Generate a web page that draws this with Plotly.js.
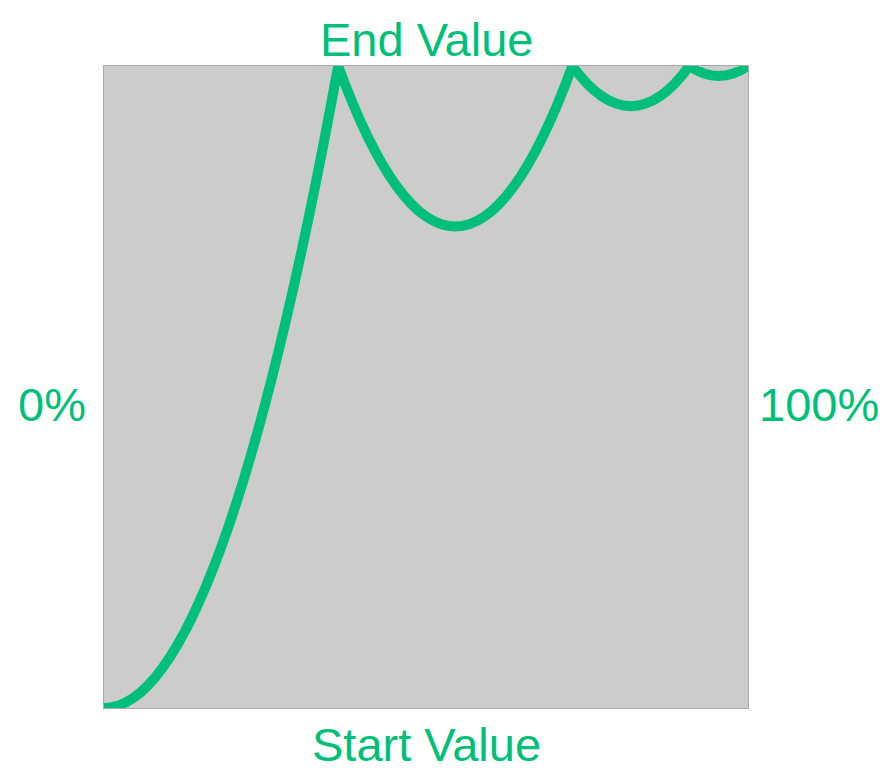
<!DOCTYPE html>
<html>
<head>
<meta charset="utf-8">
<script src="https://cdn.plot.ly/plotly-3.0.1.min.js"></script>
<style>html,body{margin:0;padding:0;background:#fff;}#chart{width:888px;height:782px;}</style>
</head>
<body>
<div id="chart"></div>
<script>
// sample index along the horizontal axis (88 steps from start to end)
const sampleIndex = [
  0,1,2,3,4,5,6,7,8,9,10,11,12,13,14,15,16,17,18,19,20,21,22,23,24,25,26,27,28,29,30,31,32,
  33,34,35,36,37,38,39,40,41,42,43,44,45,46,47,48,49,50,51,52,53,54,55,56,57,58,59,60,61,62,63,64,
  65,66,67,68,69,70,71,72,73,74,75,76,77,78,79,80,
  81,82,83,84,85,86,87,88
];
const totalSteps = 88;
// eased value
const easedValue = [
  0, 0.0010, 0.0039, 0.0088, 0.0156, 0.0244, 0.0352, 0.0479, 0.0625, 0.0791,
  0.0977, 0.1182, 0.1406, 0.1650, 0.1914, 0.2197, 0.25, 0.2822, 0.3164, 0.3525,
  0.3906, 0.4307, 0.4727, 0.5166, 0.5625, 0.6104, 0.6602, 0.7119, 0.7656, 0.8213,
  0.8789, 0.9385, 1.0,
  0.9697, 0.9414, 0.9150, 0.8906, 0.8682, 0.8477, 0.8291, 0.8125, 0.7979, 0.7852,
  0.7744, 0.7656, 0.7588, 0.7539, 0.7510, 0.75, 0.7510, 0.7539, 0.7588, 0.7656,
  0.7744, 0.7852, 0.7979, 0.8125, 0.8291, 0.8477, 0.8682, 0.8906, 0.9150, 0.9414,
  0.9697, 1.0,
  0.9854, 0.9727, 0.9619, 0.9531, 0.9463, 0.9414, 0.9385, 0.9375, 0.9385, 0.9414,
  0.9463, 0.9531, 0.9619, 0.9727, 0.9854, 1.0,
  0.9932, 0.9883, 0.9854, 0.9844, 0.9854, 0.9883, 0.9932, 1.0
];
const progress = sampleIndex.map(k => k / totalSteps);
const labels = {top: 'End Value', bottom: 'Start Value', left: '0%', right: '100%'};

const green = '#00BF7A';
const font = {family: 'Liberation Sans, Arial, Helvetica, sans-serif', size: 47, color: green};

Plotly.newPlot('chart', [{
  x: progress,
  y: easedValue,
  type: 'scatter',
  mode: 'lines',
  line: {color: green, width: 10, simplify: false, shape: 'linear'},
  hoverinfo: 'skip'
}], {
  width: 888, height: 782,
  margin: {l: 104, r: 140, t: 66, b: 74, pad: 0},
  paper_bgcolor: '#ffffff',
  plot_bgcolor: '#cccccc',
  showlegend: false,
  xaxis: {range: [0, 1], showgrid: false, zeroline: false, showticklabels: false, ticks: '',
          showline: true, linecolor: '#aaaaaa', linewidth: 1, mirror: true, fixedrange: true},
  yaxis: {range: [0, 1], showgrid: false, zeroline: false, showticklabels: false, ticks: '',
          showline: true, linecolor: '#aaaaaa', linewidth: 1, mirror: true, fixedrange: true},
  annotations: [
    {text: labels.top, xref: 'paper', yref: 'paper', x: 0.5, y: 1.0405, xanchor: 'center', yanchor: 'middle', showarrow: false, font: font},
    {text: labels.bottom, xref: 'paper', yref: 'paper', x: 0.5, y: -0.0576, xanchor: 'center', yanchor: 'middle', showarrow: false, font: font},
    {text: labels.left, xref: 'paper', yref: 'paper', x: -0.0807, y: 0.472, xanchor: 'center', yanchor: 'middle', showarrow: false, font: font},
    {text: labels.right, xref: 'paper', yref: 'paper', x: 1.110, y: 0.472, xanchor: 'center', yanchor: 'middle', showarrow: false, font: font}
  ]
}, {staticPlot: true, displayModeBar: false});
</script>
</body>
</html>
